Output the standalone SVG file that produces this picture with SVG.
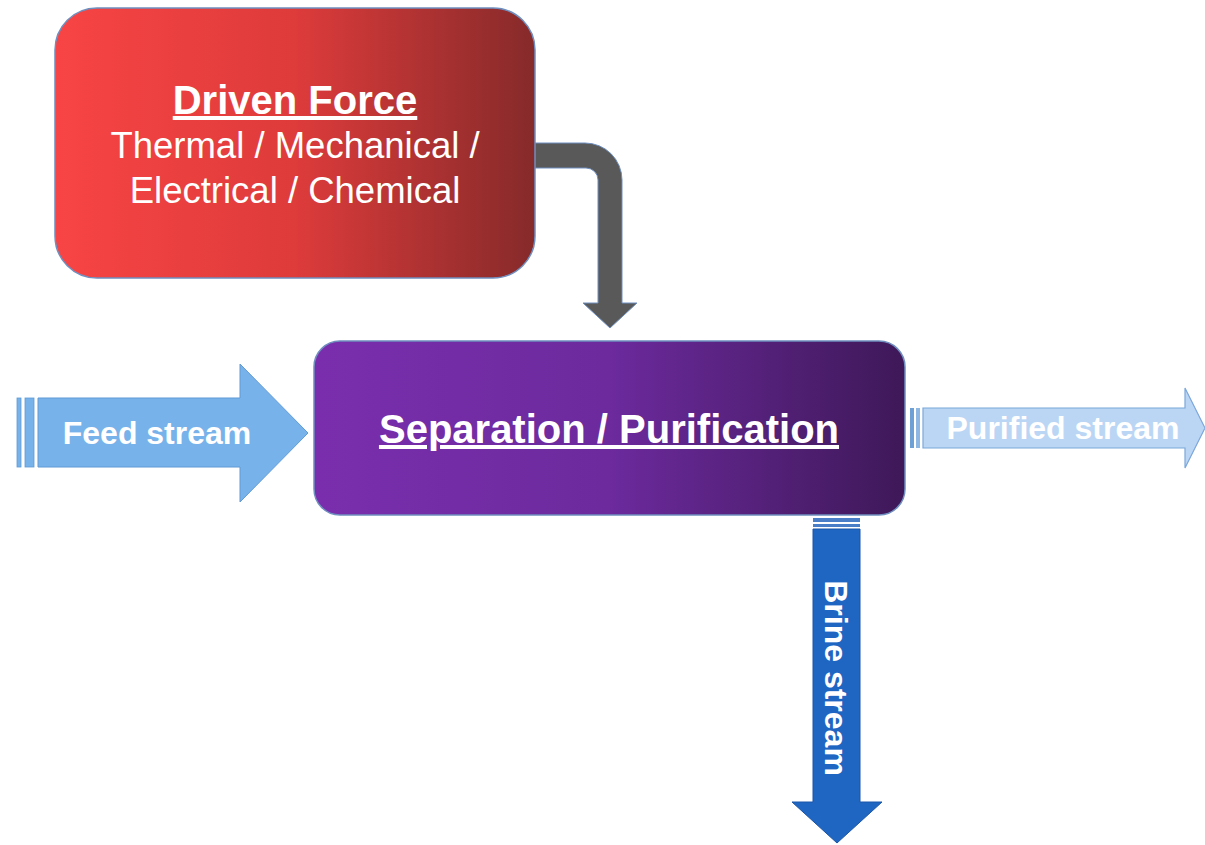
<svg xmlns="http://www.w3.org/2000/svg" width="1205" height="845" viewBox="0 0 1205 845">
<defs>
<linearGradient id="gRed" x1="0" y1="0" x2="1" y2="0">
<stop offset="0" stop-color="#F84444"/><stop offset="0.5" stop-color="#DE3B3B"/><stop offset="1" stop-color="#862A2A"/>
</linearGradient>
<linearGradient id="gPur" x1="0" y1="0" x2="1" y2="0">
<stop offset="0" stop-color="#7A2EAD"/><stop offset="0.5" stop-color="#6C2A9D"/><stop offset="1" stop-color="#3E1858"/>
</linearGradient>
<style>
.box{stroke:#6F8FBF;stroke-width:1.5}
.title{font-family:"Liberation Sans",Arial,sans-serif;font-weight:bold;font-size:40px;fill:#fff;text-anchor:middle;text-decoration:underline}
.sub{font-family:"Liberation Sans",Arial,sans-serif;font-size:36.5px;fill:#fff;text-anchor:middle}
.lbl{font-family:"Liberation Sans",Arial,sans-serif;font-weight:bold;font-size:32px;fill:#fff}
</style>
</defs>
<rect width="1205" height="845" fill="#fff"/>
<g id="connectors">
<g id="force-arrow">
<path d="M530,143 H585 A37,37 0 0 1 622,180 V303 H637 L610,328 L583,303 H598 V180 A12,12 0 0 0 586,168 H530 Z" fill="#595959" stroke="#6F8FBF" stroke-width="1"/>
</g>
<g id="feed-arrow">
<rect x="17" y="398" width="4" height="69" fill="#78B2EA" stroke="#5F9AD6" stroke-width="0.8"/>
<rect x="25" y="398" width="9" height="69" fill="#78B2EA" stroke="#5F9AD6" stroke-width="0.8"/>
<path d="M38,398 H240 V364 L308,433 L240,502 V467 H38 Z" fill="#78B2EA" stroke="#5F9AD6" stroke-width="1"/>
<text class="lbl" x="157" y="444" text-anchor="middle">Feed stream</text>
</g>
<g id="purified-arrow">
<rect x="910" y="408" width="4" height="40" fill="#6E9FD5"/>
<rect x="916" y="408" width="4" height="40" fill="#8FB7E4"/>
<path d="M923,408 H1185 V388 L1205,428 L1185,468 V448 H923 Z" fill="#BBD6F5" stroke="#7BA7DA" stroke-width="1.2"/>
<text class="lbl" x="1063" y="439" text-anchor="middle">Purified stream</text>
</g>
<g id="brine-arrow">
<rect x="813" y="518" width="47" height="4" fill="#4A7FC8"/>
<rect x="813" y="524" width="47" height="3" fill="#4A7FC8"/>
<path d="M813,529 H860 V802 H882 L837,843 L792,802 H813 Z" fill="#1F65C2" stroke="#1A56A8" stroke-width="1"/>
<text class="lbl" transform="translate(825,678) rotate(90)" text-anchor="middle">Brine stream</text>
</g>
</g>
<g id="driven-force">
<rect class="box" x="55" y="8" width="480" height="270" rx="42" fill="url(#gRed)"/>
<text class="title" x="295" y="114">Driven Force</text>
<text class="sub" x="295" y="158">Thermal / Mechanical /</text>
<text class="sub" x="295" y="203">Electrical / Chemical</text>
</g>
<g id="separation">
<rect class="box" x="314" y="341" width="591" height="174" rx="26" fill="url(#gPur)"/>
<text class="title" x="609" y="443">Separation / Purification</text>
</g>
</svg>
